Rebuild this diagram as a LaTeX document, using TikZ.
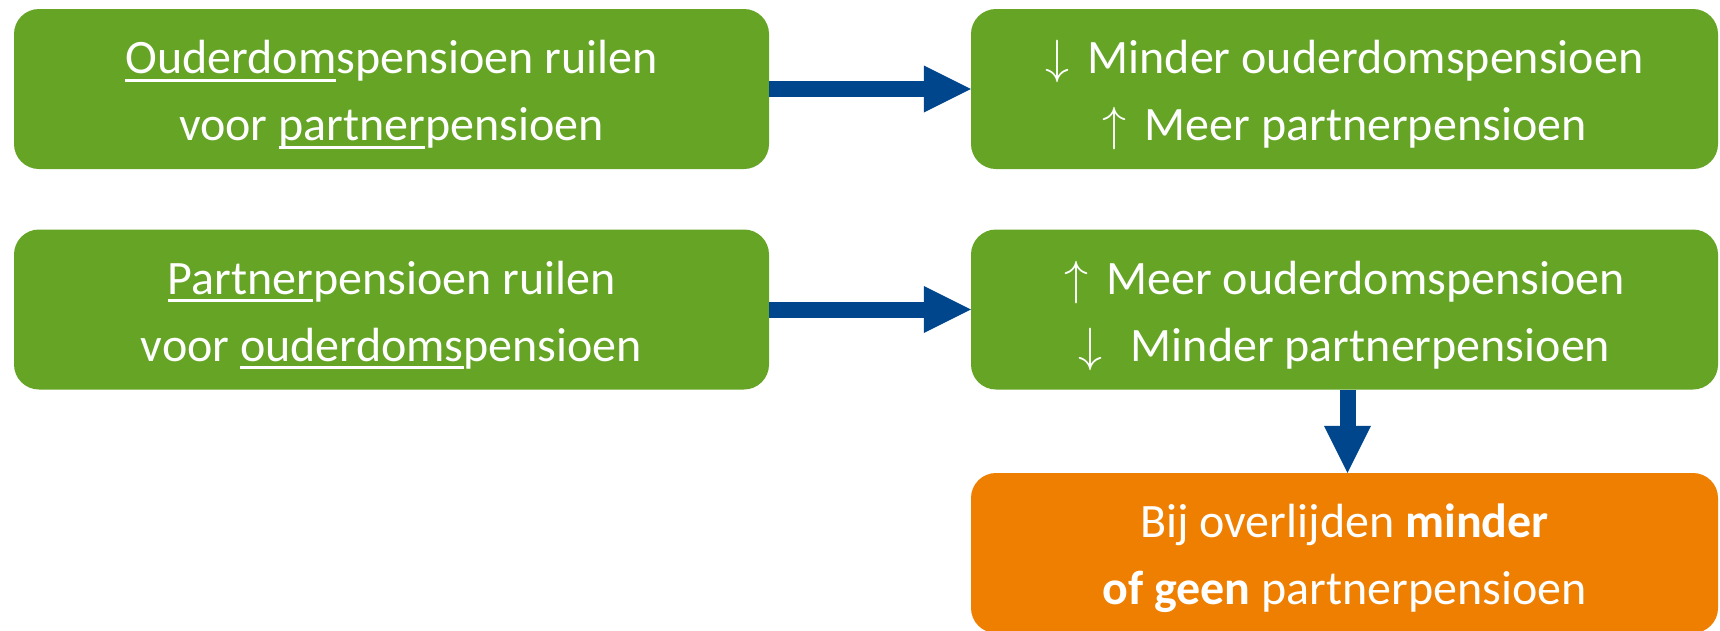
\documentclass[tikz,border=0pt]{standalone}
\usepackage{fix-cm}
\usepackage{fontspec}
\setmainfont{Carlito}
\usetikzlibrary{arrows.meta}

\definecolor{boxgreen}{HTML}{65A425}
\definecolor{boxorange}{HTML}{EE7F00}
\definecolor{arrowblue}{HTML}{00468C}

% underline that ignores descenders
\newcommand{\undr}[1]{\setbox0\hbox{#1}\rlap{\vrule height -5pt depth 8pt width \wd0}\box0}
\newcommand{\arrdown}[1]{$\downarrow$\hspace{#1}}
\newcommand{\arrup}[1]{$\uparrow$\hspace{#1}}
\newcommand{\topline}{\rule{0pt}{46pt}}
\newcommand{\botline}{\rule[-10pt]{0pt}{10pt}}

\tikzset{
    pbox/.style={rectangle, rounded corners=25pt, fill=boxgreen, text=white, align=center,
        inner sep=0pt, minimum height=160pt, font=\fontsize{48pt}{67pt}\selectfont},
    leftbox/.style={pbox, minimum width=755pt},
    rightbox/.style={pbox, minimum width=747pt},
    blockarrow/.style={draw=arrowblue, line width=16pt,
        -{Triangle[length=47pt, width=47pt, line width=0pt]}}
}

\begin{document}
\begin{tikzpicture}[x=1pt, y=-1pt]
        \useasboundingbox (0,0) rectangle (1720,630);

        % Define nodes
        \node[leftbox] (ruilpartner) at (391.5,89)
            {\topline\undr{Ouderdom}spensioen ruilen\\voor \undr{partner}pensioen\botline};
        \node[rightbox] (gevolgpartner) at (1344.5,89)
            {\topline\arrdown{18pt}Minder ouderdomspensioen\\\arrup{18pt}Meer partnerpensioen\botline};

        \node[leftbox] (ruilouderdom) at (391.5,309.5)
            {\topline\undr{Partner}pensioen ruilen\\voor \undr{ouderdoms}pensioen\botline};
        \node[rightbox] (gevolgouderdom) at (1344.5,309.5)
            {\topline\arrup{18pt}Meer ouderdomspensioen\\\arrdown{28pt}Minder partnerpensioen\botline};

        \node[rightbox, fill=boxorange] (overlijden) at (1344.5,553)
            {\topline Bij overlijden \textbf{minder}\\\textbf{of geen} partnerpensioen\botline};

        % Draw edges
        \draw[blockarrow] (ruilpartner.east) -- (gevolgpartner.west);
        \draw[blockarrow] (ruilouderdom.east) -- (gevolgouderdom.west);
        \draw[blockarrow] ([xshift=3pt]gevolgouderdom.south) -- ([xshift=3pt]overlijden.north);
    \end{tikzpicture}
\end{document}
